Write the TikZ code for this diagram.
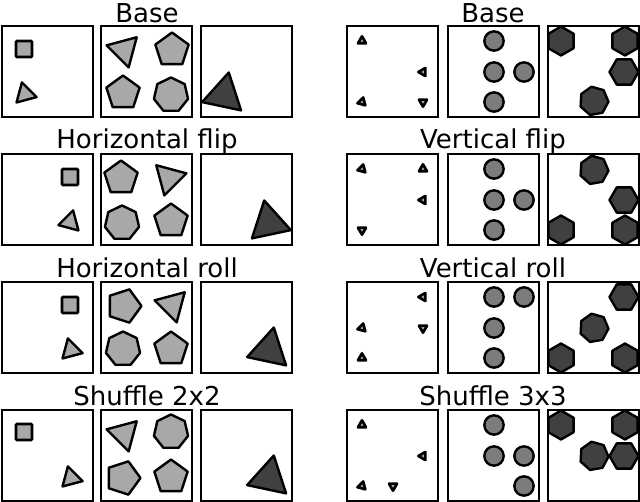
\documentclass[tikz,border=0pt]{standalone}
\usepackage{fontspec}
\setmainfont{DejaVu Sans}
\usetikzlibrary{shapes.geometric}
\definecolor{lg}{HTML}{A8A8A8}
\definecolor{mg}{HTML}{7C7C7C}
\definecolor{dg}{HTML}{404040}
\tikzset{
  frame/.style={draw=black, line width=1.1pt},
  ttl/.style={font=\fontsize{19.5}{22}\selectfont, inner sep=0pt},
  sh/.style={draw=black, regular polygon, inner sep=0pt, line width=1.8pt, line join=round},
}
% \shp{fill}{sides}{diameter px}{rotate}{x}{y}
\newcommand\shp[6]{\node[sh, fill=#1, regular polygon sides=#2, minimum size=#3*0.75pt, shape border rotate=#4] at (#5,#6) {};}
\newcommand\crc[2]{\node[draw=black, circle, fill=mg, inner sep=0pt, line width=1.8pt, minimum size=14.5pt] at (#1,#2) {};}
\newcommand\pnl[3]{\begin{scope}[shift={(#1,#2)}]\draw[frame] (0,0) rectangle (91,91);#3\end{scope}}
\newcommand\ttl[3]{\node[ttl] at (#1,#2) {#3};}
% left col shapes
\newcommand\sq[2]{\node[draw=black, fill=lg, line width=2pt, minimum size=12pt, inner sep=0pt, rounded corners=0.8pt] at (#1,#2) {};}
\newcommand\stri[3]{\shp{lg}{3}{24}{#3}{#1}{#2}}
\newcommand\mtri[3]{\shp{lg}{3}{36}{#3}{#1}{#2}}
\newcommand\pent[3]{\shp{lg}{5}{35}{#3}{#1}{#2}}
\newcommand\hept[2]{\shp{lg}{7}{35}{0}{#1}{#2}}
\newcommand\btri[3]{\shp{dg}{3}{46}{#3}{#1}{#2}}
% right col
\newcommand\ttri[3]{\node[draw=black, regular polygon, regular polygon sides=3, minimum size=7pt, inner sep=0pt, line width=2pt, line join=round, fill=lg, shape border rotate=#3] at (#1,#2) {};}
\newcommand\hx[3]{\shp{dg}{6}{29}{#3}{#1}{#2}}
\newcommand\hp[2]{\shp{dg}{7}{29}{10}{#1}{#2}}
\begin{document}
\begin{tikzpicture}[x=0.75pt,y=-0.75pt]
\useasboundingbox (0,0) rectangle (640,502);
% titles
\ttl{147}{13}{Base}
\ttl{147}{141}{Horizontal flip}
\ttl{147}{268}{Horizontal roll}
\ttl{147}{396}{Shuffle 2x2}
\ttl{493}{13}{Base}
\ttl{493}{141}{Vertical flip}
\ttl{493}{268}{Vertical roll}
\ttl{493}{396}{Shuffle 3x3}
% ---- left column
% row 1
\pnl{2}{26}{\sq{22}{23}\stri{23}{68}{15}}
\pnl{101}{26}{\mtri{23}{24}{-45}\pent{71}{24}{0}\pent{22}{67}{0}\hept{70}{69}}
\pnl{201}{26}{\btri{23}{69}{-12}}
% row 2
\pnl{2}{154}{\sq{68}{23}\stri{68}{68}{-15}}
\pnl{101}{154}{\pent{20}{24}{0}\mtri{68}{24}{45}\hept{21}{69}\pent{70}{67}{0}}
\pnl{201}{154}{\btri{68}{69}{12}}
% row 3
\pnl{2}{282}{\sq{68}{23}\stri{69}{68}{15}}
\pnl{101}{282}{\pent{23}{24}{-90}\mtri{71}{23}{-45}\hept{22}{67}\pent{70}{67}{0}}
\pnl{201}{282}{\btri{68}{68}{-12}}
% row 4
\pnl{2}{410}{\sq{22}{22}\stri{69}{68}{15}}
\pnl{101}{410}{\mtri{23}{24}{-45}\hept{70}{22}\pent{22}{68}{-90}\pent{70}{67}{0}}
\pnl{201}{410}{\btri{68}{68}{-12}}
% ---- right column
% row 1
\pnl{347}{26}{\ttri{15}{15}{0}\ttri{76}{46}{90}\ttri{15}{76}{105}\ttri{76}{76}{180}}
\pnl{448}{26}{\crc{46}{15}\crc{46}{46}\crc{76}{46}\crc{46}{76}}
\pnl{548}{26}{\hx{13}{15}{30}\hx{77}{15}{30}\hx{76}{46}{0}\hp{46}{75}}
% row 2
\pnl{347}{154}{\ttri{15}{15}{105}\ttri{76}{15}{0}\ttri{76}{46}{90}\ttri{15}{76}{180}}
\pnl{448}{154}{\crc{46}{15}\crc{46}{46}\crc{76}{46}\crc{46}{76}}
\pnl{548}{154}{\hp{46}{16}\hx{76}{46}{0}\hx{13}{76}{30}\hx{77}{76}{30}}
% row 3
\pnl{347}{282}{\ttri{76}{15}{90}\ttri{15}{46}{105}\ttri{76}{46}{180}\ttri{15}{76}{0}}
\pnl{448}{282}{\crc{46}{15}\crc{76}{15}\crc{46}{46}\crc{46}{76}}
\pnl{548}{282}{\hx{76}{15}{0}\hp{46}{46}\hx{13}{76}{30}\hx{77}{76}{30}}
% row 4
\pnl{347}{410}{\ttri{15}{15}{0}\ttri{76}{46}{90}\ttri{15}{76}{105}\ttri{46}{76}{180}}
\pnl{448}{410}{\crc{46}{15}\crc{46}{46}\crc{76}{46}\crc{76}{76}}
\pnl{548}{410}{\hx{13}{15}{30}\hx{77}{15}{30}\hp{46}{46}\hx{76}{46}{0}}
\end{tikzpicture}
\end{document}
